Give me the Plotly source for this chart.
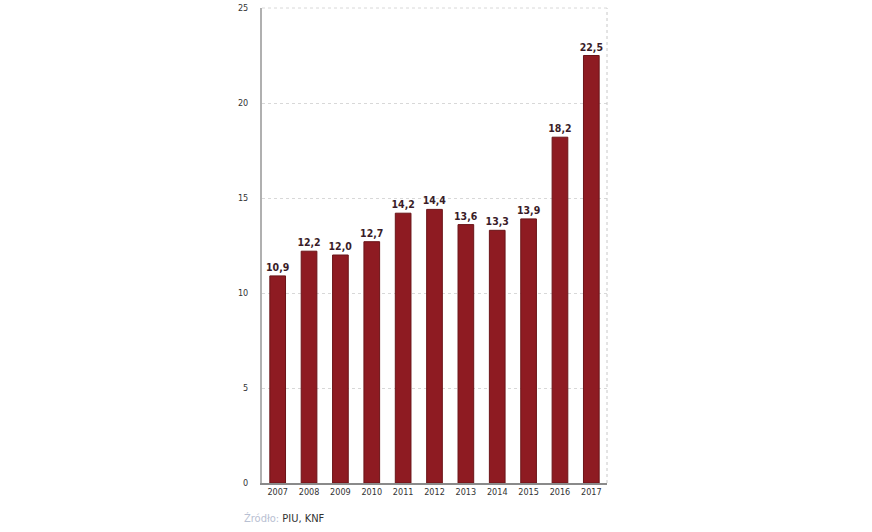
import plotly.graph_objects as go

years = ["2007", "2008", "2009", "2010", "2011", "2012", "2013", "2014", "2015", "2016", "2017"]
values = [10.9, 12.2, 12.0, 12.7, 14.2, 14.4, 13.6, 13.3, 13.9, 18.2, 22.5]
labels = [f"{v:.1f}".replace(".", ",") for v in values]
y_ticks = [0, 5, 10, 15, 20, 25]

FONT = "DejaVu Sans Condensed, Liberation Sans Narrow, Roboto, sans-serif"

fig = go.Figure()
fig.add_trace(go.Bar(
    x=years, y=values,
    text=labels, texttemplate="<b>%{text}</b>", textposition="outside",
    constraintext="none",
    textfont=dict(family=FONT, size=10.5, color="#3a1c28"),
    marker=dict(color="#8e1b22", line=dict(color="#6b1418", width=1)),
    cliponaxis=False,
    width=0.5,
    hoverinfo="skip",
))

L, R, T, B = 262, 265, 8, 49
PW, PH = 872 - L - R, 532 - T - B
fig.update_layout(
    width=872, height=532,
    margin=dict(l=L, r=R, t=T, b=B, pad=0, autoexpand=False),
    paper_bgcolor="white", plot_bgcolor="white",
    showlegend=False,
    font=dict(family=FONT, color="#333"),
    xaxis=dict(
        type="category", range=[-0.5, 10.5], automargin=False,
        showgrid=False, showline=True, linecolor="#8a8a8a", linewidth=1.5,
        ticks="", tickfont=dict(size=9, color="#333"),
        fixedrange=True,
    ),
    yaxis=dict(
        range=[0, 25], tickvals=y_ticks, ticktext=[str(t) for t in y_ticks],
        automargin=False,
        showgrid=True, gridcolor="#d8d8d8", griddash="dot", gridwidth=1,
        showline=True, linecolor="#b0b0b0", linewidth=2,
        zeroline=False, ticks="", ticklabelstandoff=10,
        tickfont=dict(size=9, color="#333"),
        fixedrange=True,
    ),
    shapes=[
        dict(type="line", xref="paper", yref="paper", x0=1, x1=1, y0=0, y1=1,
             line=dict(color="#c8c8c8", width=1, dash="dot")),
        dict(type="line", xref="paper", yref="paper", x0=0, x1=1, y0=1, y1=1,
             line=dict(color="#d8d8d8", width=1, dash="dot")),
    ],
    annotations=[dict(
        xref="paper", yref="paper",
        x=(242 - L) / PW, y=(483 - 518) / PH,
        xanchor="left", yanchor="middle", showarrow=False,
        text="<span style='color:#b8c0d2'>Źródło:</span> PIU, KNF",
        font=dict(family=FONT, size=11, color="#333"),
    )],
)

fig.write_html("out.html", config={"displayModeBar": False, "staticPlot": True},
               post_script="document.body.style.margin='0';")
